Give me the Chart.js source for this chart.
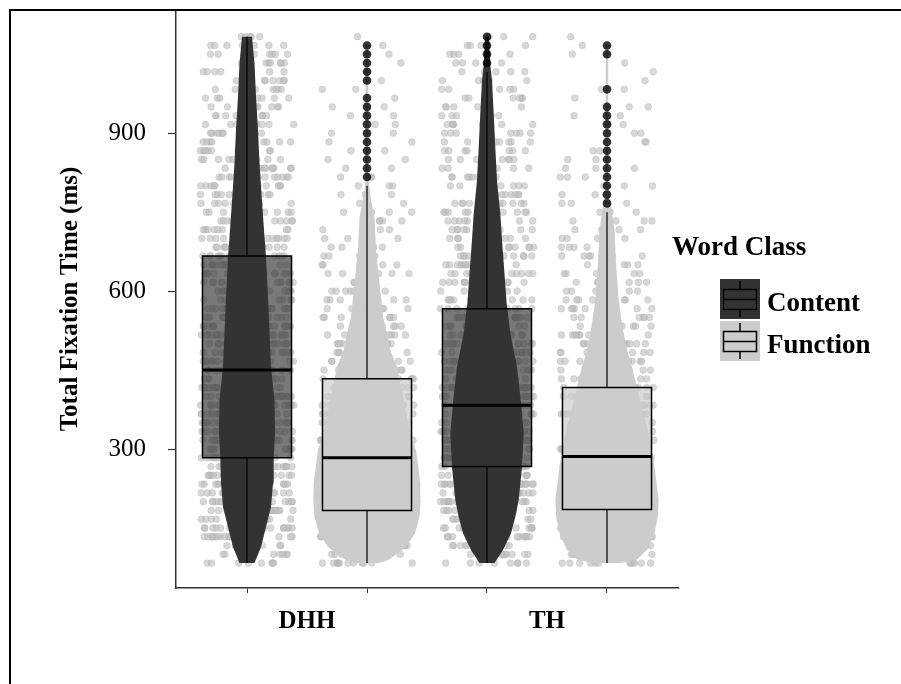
<!DOCTYPE html>
<html><head><meta charset="utf-8">
<script src="https://cdn.jsdelivr.net/npm/chart.js@4.4.1/dist/chart.umd.min.js"></script>
<style>
html,body{margin:0;padding:0;background:#fff;}
#wrap{position:relative;width:901px;height:684px;overflow:hidden;background:#fff;}
#frame{position:absolute;left:9px;top:9px;width:1000px;height:1000px;border-left:2px solid #000;border-top:2px solid #000;pointer-events:none;}
canvas{position:absolute;left:0;top:0;}
</style></head><body>
<div id="wrap"><canvas id="c" width="901" height="684"></canvas><div id="frame"></div></div>
<script>
// ---------------- DATA ----------------
const groups = ['DHH', 'TH'];
const wordClasses = ['Content', 'Function'];
const yTicks = [300, 600, 900];

// box order: DHH-Content, DHH-Function, TH-Content, TH-Function
const whiskerLow   = [83.3, 83.3, 83.3, 83.3];
const q1Values     = [283.3, 183.3, 266.7, 185];
const medianValues = [450, 283.3, 383.3, 286];
const q3Values     = [666.7, 433.3, 566.7, 416.7];
const whiskerHigh  = [1083.3, 800, 1016.7, 750];

const outliersDHHContent  = [];
const outliersDHHFunction = [816.7, 833.3, 850, 866.7, 883.3, 900, 916.7, 933.3, 950, 966.7, 1000, 1016.7, 1033.3, 1050, 1066.7];
const outliersTHContent   = [1033.3, 1050, 1066.7, 1083.3];
const outliersTHFunction  = [766.7, 783.3, 800, 816.7, 833.3, 850, 866.7, 883.3, 900, 916.7, 933.3, 950, 983.3, 1050, 1066.7];

// violin outlines: values and relative density (half width)
const violinDHHContentY = [83.3, 114, 152, 190, 235, 285, 330, 393, 456, 520, 589, 665, 716, 779, 843, 906, 969, 1033, 1083.3];
const violinDHHContentD = [7.5, 14, 19, 24, 26, 26.7, 28, 27.5, 24, 22.5, 21, 19, 17, 14.7, 12.5, 11, 9, 7.5, 5];
const violinDHHFunctionY = [83.3, 89, 100, 114, 140, 171, 203, 235, 298, 330, 393, 456, 488, 520, 551, 615, 678, 740, 773, 800, 833, 1066.7];
const violinDHHFunctionD = [12, 21, 30, 39, 48, 52.5, 53.7, 53.3, 49, 43, 36.7, 30, 23.3, 20, 16, 12.5, 9, 7.5, 4, 2, 1.5, 1.2];
const violinTHContentY = [83.3, 108, 140, 171, 203, 266, 330, 393, 456, 520, 576, 620, 684, 747, 810, 873, 937, 1000, 1026, 1083.3];
const violinTHContentD = [7.5, 16, 24, 28.3, 31.7, 35, 36.7, 33.7, 30, 23.3, 19.7, 18, 15.5, 13.3, 10, 8.3, 6.7, 5, 3.5, 2];
const violinTHFunctionY = [83.3, 90, 108, 140, 171, 203, 228, 266, 330, 393, 456, 488, 520, 551, 583, 653, 716, 760, 800, 1066.7];
const violinTHFunctionD = [14, 30, 40, 47.5, 50.8, 51.7, 50, 47.5, 41.7, 33, 25, 20, 16.7, 14, 11.7, 9, 7.5, 4, 1.5, 1.2];

// jittered raw observations: mean count per 16.7 ms row, in 50 ms bins from 83 ms upward
const dotsDHHContent  = [8, 16, 21, 24, 25, 25, 24, 22, 20, 18, 16, 14, 13, 12, 11, 10, 9, 8, 7, 7, 5];
const dotsDHHFunction = [12, 20, 22, 22, 20, 18, 15, 12, 10, 8, 6, 5, 4, 3.5, 3, 2, 2, 1.5, 1.2, 1, 1];
const dotsTHContent   = [8, 17, 22, 25, 26, 25, 24, 21, 18, 15, 13, 12, 11, 10, 9, 8, 7, 6, 5, 4, 3];
const dotsTHFunction  = [12, 20, 22, 22, 20, 18, 15, 13, 11, 9, 7, 6, 4.5, 3.5, 3, 2.2, 2, 1.5, 1.2, 1, 1];
const SAMPLE_MS = 50 / 3;     // eye-tracker sampling step
const FIRST_ROW_MS = 83.333;

// ---------------- LAYOUT / STYLE ----------------
const FONT = "'Liberation Serif', 'Times New Roman', serif";
const X_MIN = 0.4083, X_MAX = 4.5917, Y_MIN = 36, Y_MAX = 1134;
const BOX_HALF = 0.371, JITTER = 0.39, VIOLIN_SCALE = 1 / 120;
const classFill = ['#333333', '#cccccc'];
const boxFill = ['rgba(51,51,51,0.66)', 'rgba(204,204,204,0.7)'];

const series = [
  {g: 0, c: 0, vy: violinDHHContentY, vd: violinDHHContentD, out: outliersDHHContent, dots: dotsDHHContent},
  {g: 0, c: 1, vy: violinDHHFunctionY, vd: violinDHHFunctionD, out: outliersDHHFunction, dots: dotsDHHFunction},
  {g: 1, c: 0, vy: violinTHContentY, vd: violinTHContentD, out: outliersTHContent, dots: dotsTHContent},
  {g: 1, c: 1, vy: violinTHFunctionY, vd: violinTHFunctionD, out: outliersTHFunction, dots: dotsTHFunction},
];
const posOf = s => s.g * 2 + s.c + 1;

const datasets = [];
// outliers
const outPts = [];
series.forEach(s => s.out.forEach(v => outPts.push({x: posOf(s), y: v})));
datasets.push({type: 'line', data: outPts, showLine: false, pointRadius: 4.3, pointBackgroundColor: 'rgba(0,0,0,0.8)', backgroundColor: 'rgba(0,0,0,0.8)', pointBorderWidth: 0, order: 0});
// medians
series.forEach((s, i) => {
  const x = posOf(s);
  datasets.push({type: 'line', data: [{x: x - BOX_HALF, y: medianValues[i]}, {x: x + BOX_HALF, y: medianValues[i]}],
    borderColor: '#000', borderWidth: 3, pointRadius: 0, fill: false, order: 1});
});
// boxes
series.forEach((s, i) => {
  const x = posOf(s);
  datasets.push({type: 'line', data: [
      {x: x - BOX_HALF, y: q1Values[i]}, {x: x + BOX_HALF, y: q1Values[i]},
      {x: x + BOX_HALF, y: q3Values[i]}, {x: x - BOX_HALF, y: q3Values[i]}, {x: x - BOX_HALF, y: q1Values[i]}],
    fill: 'shape', backgroundColor: boxFill[s.c], borderColor: '#000', borderWidth: 1.5,
    borderCapStyle: 'square', borderJoinStyle: 'miter', pointRadius: 0, tension: 0, order: 2});
});
// whiskers
const whiskPts = [];
series.forEach((s, i) => {
  const x = posOf(s);
  whiskPts.push({x, y: whiskerLow[i]}, {x, y: q1Values[i]}, {x, y: null},
                {x, y: q3Values[i]}, {x, y: whiskerHigh[i]}, {x, y: null});
});
datasets.push({type: 'line', data: whiskPts, borderColor: '#000', borderWidth: 1.2, pointRadius: 0, spanGaps: false, fill: false, order: 3});
// violins
series.forEach(s => {
  const x = posOf(s);
  const pts = [];
  for (let k = 0; k < s.vy.length; k++) pts.push({x: x + s.vd[k] * VIOLIN_SCALE, y: s.vy[k]});
  for (let k = s.vy.length - 1; k >= 0; k--) pts.push({x: x - s.vd[k] * VIOLIN_SCALE, y: s.vy[k]});
  pts.push(pts[0]);
  datasets.push({type: 'line', data: pts, fill: 'shape', backgroundColor: classFill[s.c],
    borderColor: 'rgba(0,0,0,0)', borderWidth: 0, pointRadius: 0, tension: 0, order: 4});
});
// jittered dots: deterministic hash-based horizontal jitter (no random generator)
function jitterFrac(a, b, c) {
  let h = (Math.imul(a + 1, 374761393) + Math.imul(b + 7, 668265263) + Math.imul(c + 3, 1274126177)) | 0;
  h = Math.imul(h ^ (h >>> 13), 1274126177);
  h = Math.imul(h ^ (h >>> 16), 2246822519);
  h ^= h >>> 15;
  return (h >>> 0) / 4294967296;
}
const dotPts = [];
series.forEach((s, si) => {
  const x = posOf(s);
  const rowCount = {};
  s.dots.forEach((perRow, bin) => {
    const rows = [];
    for (let r = 0; r < 3; r++) {
      const k = bin * 3 + r;
      if (k <= 60) rows.push(k);
    }
    const total = Math.round(perRow * rows.length);
    for (let j = 0; j < total; j++) {
      const k = rows[j % rows.length];
      const m = rowCount[k] = (rowCount[k] || 0) + 1;
      const f = jitterFrac(si, k, m);
      dotPts.push({x: x + (f * 2 - 1) * JITTER, y: FIRST_ROW_MS + k * SAMPLE_MS});
    }
  });
});
datasets.push({type: 'line', data: dotPts, showLine: false, pointRadius: 3.4,
  pointBackgroundColor: 'rgba(190,190,190,0.6)', backgroundColor: 'rgba(190,190,190,0.6)',
  pointBorderColor: 'rgba(160,160,160,0.3)', pointBorderWidth: 0.8, order: 5});

// x tick positions: one per box, plus the group label positions
const xTickVals = [];
const xLabelAt = {};
groups.forEach((g, gi) => {
  xTickVals.push(gi * 2 + 1, gi * 2 + 1.5, gi * 2 + 2);
  xLabelAt[gi * 2 + 1.5] = g;
});

const legendPlugin = {
  id: 'wordClassLegend',
  afterDraw(chart) {
    const ctx = chart.ctx;
    ctx.save();
    ctx.fillStyle = '#000';
    ctx.textBaseline = 'alphabetic';
    ctx.textAlign = 'left';
    ctx.font = "bold 27px " + FONT;
    ctx.fillText('Word Class', 672, 255);
    wordClasses.forEach((name, i) => {
      const kx = 720, ky = 279 + i * 42, ks = 40;
      ctx.fillStyle = classFill[i];
      ctx.fillRect(kx, ky, ks, ks);
      ctx.strokeStyle = '#000';
      ctx.lineWidth = 1.5;
      ctx.strokeRect(kx + 3.5, ky + 10.5, 33, 20);
      ctx.beginPath();
      ctx.moveTo(kx + 3.5, ky + 20.5); ctx.lineTo(kx + 36.5, ky + 20.5);
      ctx.moveTo(kx + 20, ky + 2); ctx.lineTo(kx + 20, ky + 10.5);
      ctx.moveTo(kx + 20, ky + 30.5); ctx.lineTo(kx + 20, ky + 38);
      ctx.stroke();
      ctx.fillStyle = '#000';
      ctx.font = "bold 27px " + FONT;
      ctx.fillText(name, 767, ky + 32);
    });
    ctx.restore();
  }
};

new Chart(document.getElementById('c'), {
  type: 'line',
  data: {datasets},
  options: {
    animation: false,
    responsive: false,
    devicePixelRatio: 1,
    events: [],
    layout: {padding: {left: 10, top: 10, right: 223, bottom: 0}},
    plugins: {legend: {display: false}, tooltip: {enabled: false}},
    scales: {
      x: {
        type: 'linear', min: X_MIN, max: X_MAX,
        afterBuildTicks: s => { s.ticks = xTickVals.map(v => ({value: v})); },
        afterFit: s => { s.height = 96; s.paddingLeft = 0; s.paddingRight = 0; },
        grid: {drawOnChartArea: false, drawTicks: true, tickLength: 5, tickWidth: 1,
          tickColor: c => (c.tick && xLabelAt[c.tick.value] !== undefined) ? 'rgba(0,0,0,0)' : '#333'},
        border: {display: true, color: '#333', width: 1.5},
        ticks: {autoSkip: false, maxRotation: 0, minRotation: 0, padding: 14, color: '#000',
          font: {family: FONT, size: 25, weight: 'bold'},
          callback: v => xLabelAt[v] !== undefined ? xLabelAt[v] : ''}
      },
      y: {
        type: 'linear', min: Y_MIN, max: Y_MAX,
        afterBuildTicks: s => { s.ticks = yTicks.map(v => ({value: v})); },
        afterFit: s => { s.width = 166; s.paddingTop = 0; s.paddingBottom = 0; },
        grid: {drawOnChartArea: false, drawTicks: true, tickLength: 8, tickWidth: 1.2, tickColor: '#333'},
        border: {display: true, color: '#333', width: 1.5},
        ticks: {padding: 22, color: '#000', font: {family: FONT, size: 25}},
        title: {display: true, text: 'Total Fixation Time (ms)', color: '#000',
          font: {family: FONT, size: 25, weight: 'bold'}, padding: {top: 46, bottom: 0}}
      }
    }
  },
  plugins: [legendPlugin]
});
</script></body></html>
